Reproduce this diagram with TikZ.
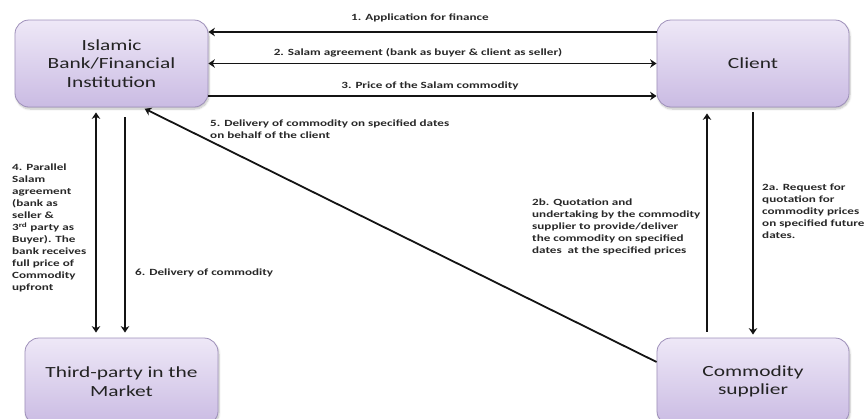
\documentclass[tikz,border=0pt]{standalone}
\usepackage{fontspec}
\setmainfont{Carlito}[FakeStretch=1.38]
\usetikzlibrary{arrows.meta,shadows.blur}
\definecolor{boxtop}{RGB}{238,232,247}
\definecolor{boxbot}{RGB}{202,187,227}
\definecolor{boxline}{RGB}{158,144,186}
\definecolor{ink}{RGB}{35,35,35}
\definecolor{noteink}{RGB}{40,40,40}
\begin{document}
\begin{tikzpicture}[x=1pt,y=-1pt,
  party/.style={draw=boxline, line width=0.8pt, rounded corners=14pt,
    top color=boxtop, bottom color=boxbot,
    blur shadow={shadow xshift=1pt, shadow yshift=-2pt, shadow blur steps=6, shadow opacity=25},
    minimum width=192pt, minimum height=87pt, align=center, text=ink,
    font=\fontsize{15.5}{18.5}\selectfont, inner sep=0pt},
  tip/.tip={Stealth[length=6.5pt,width=8.5pt]},
  flow/.style={line width=1.8pt, draw=black!92, -tip},
  twoway/.style={line width=1.8pt, draw=black!92, tip-tip},
  note/.style={font=\fontsize{9.5}{12}\selectfont\bfseries, text=noteink, inner sep=0pt, align=left},
]
\clip (0,0) rectangle (864,418);

% parties
\node[party, minimum width=193pt] (bank) at (111.5,63.5) {Islamic\\Bank/Financial\\Institution};
\node[party] (client) at (753,63.5) {Client};
\node[party, minimum width=193pt] (third) at (121.5,381.5) {Third-party in the\\Market};
\node[party] (supplier) at (753,381.5) {Commodity\\supplier};

% bank <-> client
\draw[flow] ([yshift=31.5pt]client.west) -- ([yshift=31.5pt]bank.east);
\draw[twoway] (bank.east) -- (client.west);
\draw[flow] ([yshift=-32.5pt]bank.east) -- ([yshift=-32.5pt]client.west);
\node[note, align=center] (l1) at (420,18) {1. Application for finance};
\node[note, align=center] (l2) at (418,53) {2. Salam agreement (bank as buyer \& client as seller)};
\node[note, align=center] (l3) at (430,86) {3. Price of the Salam commodity};

% bank <-> third party
\draw[twoway, shorten <=5pt, shorten >=5pt] ([xshift=-25.5pt]third.north) -- ([xshift=-15.5pt]bank.south);
\draw[flow, shorten <=10pt, shorten >=5pt] ([xshift=13.5pt]bank.south) -- ([xshift=3.5pt]third.north);
\node[note, anchor=north west] (l4) at (12,164) {4. Parallel\\Salam\\agreement\\(bank as\\seller \&\\3\textsuperscript{rd} party as\\Buyer). The\\bank receives\\full price of\\Commodity\\upfront};
\node[note, anchor=west] (l6) at (135,273) {6. Delivery of commodity};

% supplier -> bank
\draw[flow, shorten >=3pt] ([yshift=19.5pt]supplier.west) -- ([xshift=30.5pt]bank.south);
\node[note, anchor=north west] (l5) at (210,120) {5. Delivery of commodity on specified dates\\on behalf of the client};

% client <-> supplier
\draw[flow, shorten <=6pt, shorten >=6pt] ([xshift=-46pt]supplier.north) -- ([xshift=-46pt]client.south);
\draw[flow, shorten <=5pt, shorten >=3pt] (client.south) -- (supplier.north);
\node[note, anchor=north west] (l2b) at (532,199) {2b. Quotation and\\undertaking by the commodity\\supplier to provide/deliver\\the commodity on specified\\dates\ \ at the specified prices};
\node[note, anchor=north west] (l2a) at (762,184) {2a. Request for\\quotation for\\commodity prices\\on specified future\\dates.};
\end{tikzpicture}
\end{document}
